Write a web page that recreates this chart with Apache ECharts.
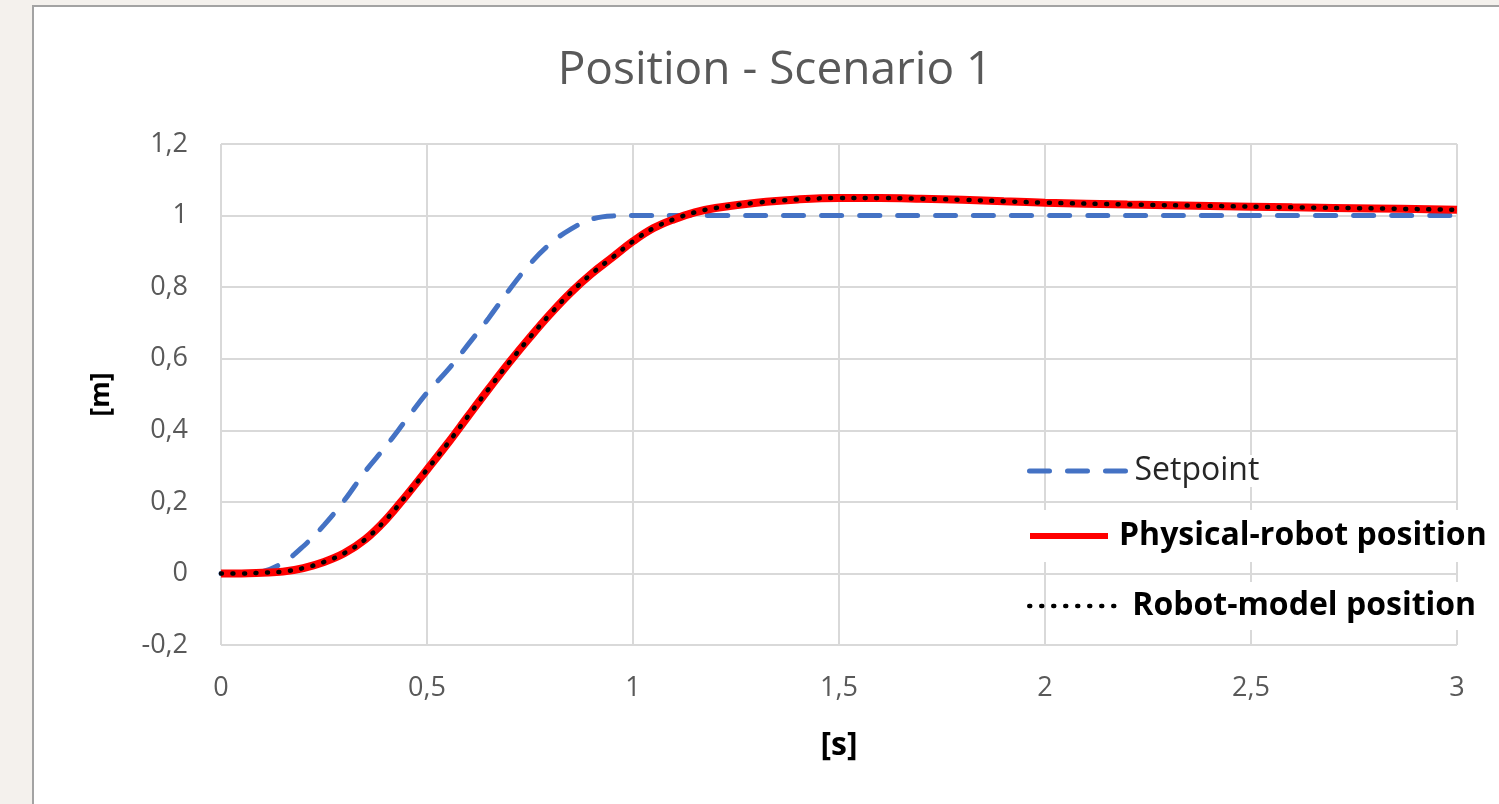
<!DOCTYPE html>
<html>
<head>
<meta charset="utf-8">
<script src="https://cdn.jsdelivr.net/npm/echarts@6/dist/echarts.min.js"></script>
<style>
  html, body { margin: 0; padding: 0; width: 1499px; height: 804px; overflow: hidden; background: #f4f1ed; }
  #card { position: absolute; left: 32px; top: 5px; width: 1520px; height: 830px; background: #fff; border: 2px solid #a3a3a3; }
  #chart { position: absolute; left: 0; top: 0; width: 1499px; height: 804px; }
</style>
</head>
<body>
<div id="card"></div>
<div id="chart"></div>
<script>
// time [s]
const timeSetpoint = [0, 0.05, 0.1, 0.15, 0.2, 0.25, 0.3, 0.35, 0.4, 0.45, 0.5, 0.55, 0.6, 0.65, 0.7, 0.75, 0.8, 0.85, 0.9, 0.95, 1.0, 1.1, 1.2, 1.5, 2.0, 2.5, 3.0]
const setpoint = [0, 0, 0.005, 0.03, 0.076, 0.135, 0.205, 0.285, 0.355, 0.43, 0.505, 0.568, 0.64, 0.714, 0.793, 0.865, 0.922, 0.963, 0.99, 0.999, 1, 1, 1, 1, 1, 1, 1]

const timeRobot = [0, 0.05, 0.1, 0.15, 0.2, 0.25, 0.3, 0.35, 0.4, 0.45, 0.5, 0.55, 0.6, 0.65, 0.7, 0.75, 0.8, 0.85, 0.9, 0.95, 1.0, 1.05, 1.1, 1.15, 1.2, 1.3, 1.4, 1.5, 1.6, 1.7, 1.8, 1.9, 2.0, 2.2, 2.4, 2.6, 2.8, 3.0]
const physicalRobot = [0, 0, 0.002, 0.005, 0.015, 0.032, 0.057, 0.095, 0.15, 0.218, 0.29, 0.363, 0.44, 0.516, 0.59, 0.66, 0.726, 0.786, 0.838, 0.883, 0.928, 0.965, 0.99, 1.009, 1.021, 1.036, 1.045, 1.049, 1.049, 1.047, 1.044, 1.04, 1.036, 1.031, 1.027, 1.023, 1.02, 1.016]
const robotModel = [0, 0, 0.002, 0.005, 0.015, 0.032, 0.057, 0.095, 0.15, 0.218, 0.29, 0.363, 0.44, 0.516, 0.59, 0.66, 0.726, 0.786, 0.838, 0.883, 0.928, 0.965, 0.99, 1.009, 1.021, 1.036, 1.045, 1.049, 1.049, 1.047, 1.044, 1.04, 1.036, 1.031, 1.027, 1.023, 1.02, 1.016]

const pair = (xs, ys) => xs.map((x, i) => [x, ys[i]])
const comma = (v) => String(+v.toFixed(1)).replace('.', ',')

const gridLine = { show: true, lineStyle: { color: '#d9d9d9', width: 2 } }
const tickFont = { color: '#595959', fontSize: 27, fontFamily: 'Open Sans' }
const boldFont = { color: '#000', fontSize: 32, fontWeight: 'bold', fontFamily: 'Open Sans' }

const chart = echarts.init(document.getElementById('chart'))
chart.setOption({
  animation: false,
  title: {
    text: 'Position - Scenario 1',
    left: 770, top: 43, textAlign: 'center',
    textStyle: { color: '#595959', fontSize: 46, fontWeight: 'normal', fontFamily: 'Open Sans' },
  },
  grid: { left: 221, right: 42, top: 144, bottom: 159 },
  xAxis: {
    type: 'value', min: 0, max: 3, interval: 0.5,
    name: '[s]', nameLocation: 'middle', nameGap: 85,
    nameTextStyle: { color: '#000', fontSize: 32, fontWeight: 'bold', fontFamily: 'Open Sans' },
    axisLine: { show: false, onZero: false },
    axisTick: { show: false },
    axisLabel: { ...tickFont, margin: 30, formatter: comma },
    splitLine: gridLine,
  },
  yAxis: {
    type: 'value', min: -0.2, max: 1.2, interval: 0.2,
    name: '[m]', nameLocation: 'middle', nameGap: 106, nameRotate: 90,
    nameTextStyle: { color: '#000', fontSize: 27, fontWeight: 'bold', fontFamily: 'Open Sans' },
    axisLine: { show: false },
    axisTick: { show: false },
    axisLabel: { ...tickFont, margin: 33, formatter: comma },
    splitLine: gridLine,
  },
  legend: [
    {
      data: ['Setpoint'], left: 1027, top: 455, padding: 0, itemGap: 0,
      itemWidth: 100, itemHeight: 14,
      itemStyle: { opacity: 0 },
      lineStyle: { type: [20, 18], width: 5, cap: 'round', color: '#4472c4' },
      textStyle: { color: '#262626', fontSize: 32, fontFamily: 'Open Sans', padding: [0, 4, 0, 0], backgroundColor: '#fff' },
    },
    {
      data: ['Physical-robot position'], left: 1010, top: 510, itemGap: 0,
      padding: [10, 40, 10, 17], backgroundColor: '#fff',
      itemWidth: 78, itemHeight: 14,
      itemStyle: { opacity: 0 },
      lineStyle: { width: 6, color: '#ff0000' },
      textStyle: { ...boldFont, padding: [0, 0, 0, 6] },
    },
    {
      data: ['Robot-model position'], left: 1027, top: 582, padding: 0, itemGap: 0,
      itemWidth: 90, itemHeight: 14,
      itemStyle: { opacity: 0 },
      lineStyle: { type: [1, 11], width: 4.5, cap: 'round', color: '#000' },
      textStyle: { ...boldFont, padding: [8, 60, 8, 8], backgroundColor: '#fff' },
    },
  ],
  series: [
    {
      name: 'Setpoint', type: 'line', symbol: 'none', smooth: 0.4,
      data: pair(timeSetpoint, setpoint),
      lineStyle: { color: '#4472c4', width: 5, type: [20, 18], cap: 'round' },
      itemStyle: { color: '#4472c4' },
    },
    {
      name: 'Physical-robot position', type: 'line', symbol: 'none', smooth: 0.4,
      data: pair(timeRobot, physicalRobot),
      lineStyle: { color: '#ff0000', width: 8 },
      itemStyle: { color: '#ff0000' },
    },
    {
      name: 'Robot-model position', type: 'line', symbol: 'none', smooth: 0.4,
      data: pair(timeRobot, robotModel),
      lineStyle: { color: '#000', width: 4.5, type: [1, 10.5], cap: 'round' },
      itemStyle: { color: '#000' },
    },
  ],
})
</script>
</body>
</html>
